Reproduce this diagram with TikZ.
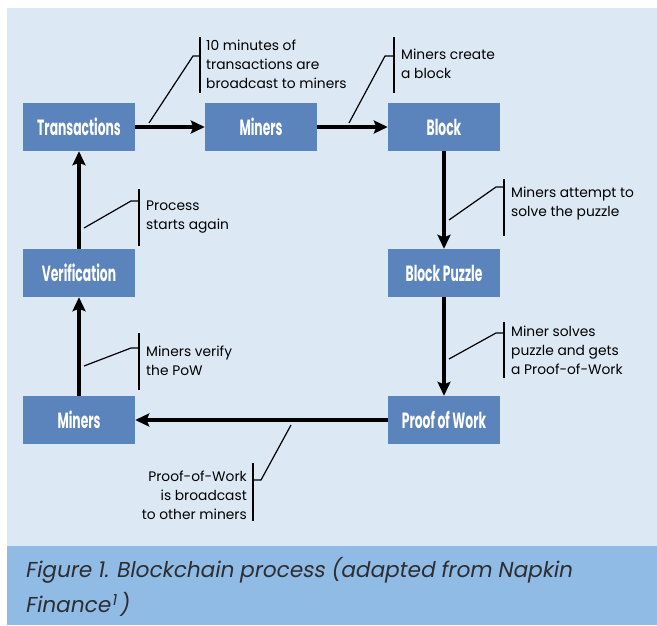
\documentclass[tikz,border=0pt]{standalone}
\usepackage{fontspec}
\setmainfont{Poppins}
\newfontfamily\boxfont[FakeStretch=0.56]{Poppins}
\newfontfamily\capfont[FakeSlant=0.18]{Poppins}
\usetikzlibrary{arrows.meta}
\definecolor{panelbg}{RGB}{220,233,245}
\definecolor{bandbg}{RGB}{143,187,229}
\definecolor{boxblue}{RGB}{91,131,188}
\definecolor{captext}{RGB}{45,45,50}
\tikzset{
  stepbox/.style={rectangle, fill=boxblue, minimum width=112pt, minimum height=48pt, inner sep=0pt,
    text=white, font=\boxfont\bfseries\fontsize{22}{22}\selectfont},
  flow/.style={line width=3.3pt, -{Stealth[length=14pt,width=13pt,inset=2.5pt]}},
  thin/.style={line width=1.2pt},
  note/.style={inner sep=0pt, font=\fontsize{13.8}{19}\selectfont, text=black}
}
\begin{document}
\begin{tikzpicture}[x=1pt,y=-1pt]
\useasboundingbox (0,0) rectangle (657,625);
\fill[white] (0,0) rectangle (657,625);
\fill[panelbg] (7,8) rectangle (657,546);
\fill[bandbg] (7,546) rectangle (657,625);

% boxes
\node[stepbox] (tx) at (79,127) {Transactions};
\node[stepbox] (m1) at (261,127) {Miners};
\node[stepbox] (blk) at (444,127) {Block};
\node[stepbox] (bp) at (444,273) {Block Puzzle};
\node[stepbox] (pow) at (444,420) {Proof of Work};
\node[stepbox] (m2) at (79,420) {Miners};
\node[stepbox] (ver) at (79,273) {Verification};

% flow arrows
\draw[flow] (tx) -- (m1);
\draw[flow] (m1) -- (blk);
\draw[flow] (blk) -- (bp);
\draw[flow] (bp) -- (pow);
\draw[flow] (pow) -- (m2);
\draw[flow] (m2) -- (ver);
\draw[flow] (ver) -- (tx);

% callout 1
\node[note, anchor=west, align=left] (n1) at (206,64) {10 minutes of\\transactions are\\broadcast to miners};
\coordinate (a1) at (149,123); \coordinate (k1) at (193,56);
\coordinate (b1t) at (200,37); \coordinate (b1b) at (200,93); \coordinate (b1m) at (200,56);
\draw[thin] (a1) -- (k1) -- (b1m);
\draw[thin] (b1t) -- (b1b);

% callout 2
\node[note, anchor=west, align=left] (n2) at (401,64) {Miners create\\a block};
\coordinate (a2) at (349,123); \coordinate (k2) at (385,56);
\coordinate (b2t) at (394,37); \coordinate (b2b) at (394,93); \coordinate (b2m) at (394,56);
\draw[thin] (a2) -- (k2) -- (b2m);
\draw[thin] (b2t) -- (b2b);

% callout 3
\node[note, anchor=west, align=left] (n3) at (511,204) {Miners attempt to\\solve the puzzle};
\coordinate (a3) at (449,220); \coordinate (k3) at (496,187);
\coordinate (b3t) at (504,179); \coordinate (b3b) at (504,236); \coordinate (b3m) at (504,187);
\draw[thin] (a3) -- (k3) -- (b3m);
\draw[thin] (b3t) -- (b3b);

% callout 4
\node[note, anchor=west, align=left] (n4) at (511,350) {Miner solves\\puzzle and gets\\a Proof-of-Work};
\coordinate (a4) at (449,359); \coordinate (k4) at (496,333);
\coordinate (b4t) at (504,322); \coordinate (b4b) at (504,378); \coordinate (b4m) at (504,333);
\draw[thin] (a4) -- (k4) -- (b4m);
\draw[thin] (b4t) -- (b4b);

% callout 5
\node[note, anchor=west, align=left] (n5) at (146,217) {Process\\starts again};
\coordinate (a5) at (84,228); \coordinate (k5) at (131,201);
\coordinate (b5t) at (139,189); \coordinate (b5b) at (139,246); \coordinate (b5m) at (139,201);
\draw[thin] (a5) -- (k5) -- (b5m);
\draw[thin] (b5t) -- (b5b);

% callout 6
\node[note, anchor=west, align=left] (n6) at (146,361) {Miners verify\\the PoW};
\coordinate (a6) at (84,366); \coordinate (k6) at (131,348);
\coordinate (b6t) at (139,333); \coordinate (b6b) at (139,390); \coordinate (b6m) at (139,348);
\draw[thin] (a6) -- (k6) -- (b6m);
\draw[thin] (b6t) -- (b6b);

% callout 7
\node[note, anchor=east, align=right] (n7) at (247,495) {Proof-of-Work\\is broadcast\\to other miners};
\coordinate (a7) at (291,425); \coordinate (k7) at (261,480);
\coordinate (b7t) at (253,463); \coordinate (b7b) at (253,521); \coordinate (b7m) at (253,480);
\draw[thin] (a7) -- (k7) -- (b7m);
\draw[thin] (b7t) -- (b7b);

% caption
\node[inner sep=0pt, anchor=west, align=left, text=captext, font=\capfont\fontsize{21.6}{35}\selectfont] (cap) at (25,587)
  {Figure 1. Blockchain process (adapted from Napkin\\Finance\kern1.5pt\textsuperscript{1}\kern2.5pt)};
\end{tikzpicture}
\end{document}
